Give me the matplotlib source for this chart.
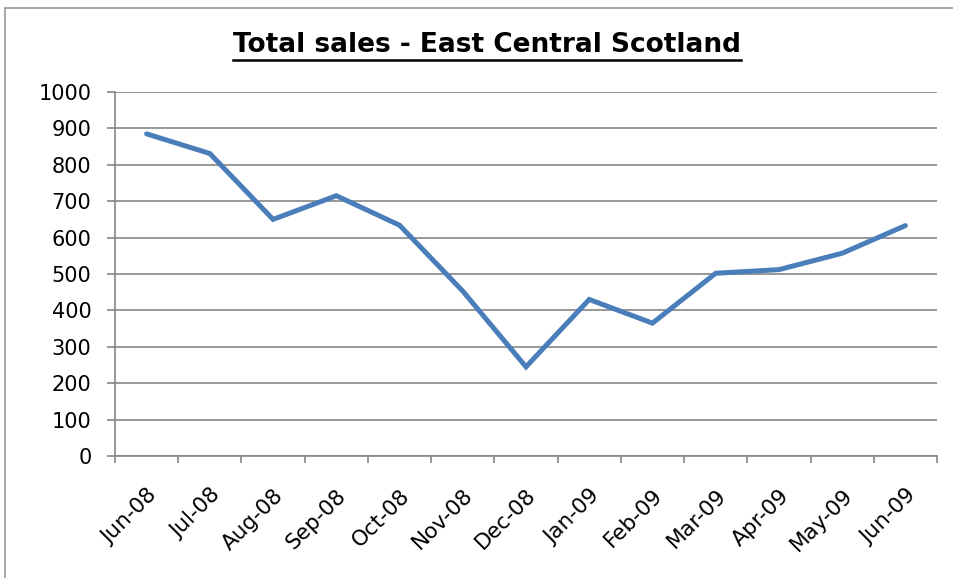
import matplotlib
matplotlib.use("Agg")
import matplotlib.pyplot as plt
from matplotlib.patches import Rectangle
from matplotlib.lines import Line2D
from matplotlib.transforms import ScaledTranslation

# Data
months = ["Jun-08", "Jul-08", "Aug-08", "Sep-08", "Oct-08", "Nov-08", "Dec-08",
          "Jan-09", "Feb-09", "Mar-09", "Apr-09", "May-09", "Jun-09"]
sales = [885, 831, 650, 715, 634, 453, 245, 430, 365, 502, 512, 557, 633]
y_ticks = list(range(0, 1001, 100))


def main():
    fig = plt.figure(figsize=(9.54, 5.78), dpi=100)

    # chart area border
    fig.patches.append(Rectangle((5 / 954, -0.05), 1.2, 1 - 8 / 578 + 0.05,
                                 transform=fig.transFigure, fill=False,
                                 edgecolor="#9a9a9a", lw=1.2))

    ax = fig.add_axes([115 / 954, 1 - 456 / 578, (937 - 115) / 954, (456 - 92) / 578])

    x = list(range(len(months)))
    ax.plot(x, sales, color="#4A7EBB", lw=3.6, solid_capstyle="round",
            solid_joinstyle="miter", zorder=3)

    ax.set_xlim(-0.5, len(months) - 0.5)
    ax.set_ylim(0, 1000)
    ax.set_yticks(y_ticks)
    ax.set_yticklabels([str(v) for v in y_ticks], fontsize=15)

    # ticks at category boundaries, labels in the middle
    ax.set_xticks([i - 0.5 for i in range(len(months) + 1)])
    ax.set_xticklabels([])
    ax.set_xticks(x, minor=True)
    ax.set_xticklabels(months, minor=True, rotation=45, ha="right",
                       rotation_mode="anchor", fontsize=15.5)
    shift = ScaledTranslation(5 / 72, 0, fig.dpi_scale_trans)
    for lbl in ax.get_xticklabels(minor=True):
        lbl.set_transform(lbl.get_transform() + shift)
    ax.tick_params(axis="x", which="minor", length=0, pad=21)
    ax.tick_params(axis="x", which="major", length=5, color="#868686", width=1.2)
    ax.tick_params(axis="y", length=6, color="#868686", width=1.2, pad=11)

    ax.yaxis.grid(True, color="#868686", lw=1.2)
    ax.set_axisbelow(True)
    for side in ["top", "right"]:
        ax.spines[side].set_visible(False)
    for side in ["left", "bottom"]:
        ax.spines[side].set_color("#868686")
        ax.spines[side].set_linewidth(1.2)

    # title with underline
    title = fig.text(487 / 954, 1 - 45 / 578, "Total sales - East Central Scotland",
                     ha="center", va="center", fontsize=19, fontweight="bold")
    fig.canvas.draw()
    bb = title.get_window_extent().transformed(fig.transFigure.inverted())
    fig.lines.append(Line2D([bb.x0, bb.x1], [bb.y0 - 0.003, bb.y0 - 0.003],
                            transform=fig.transFigure, color="black", lw=1.8))

    fig.savefig("out.png", dpi=100)


if __name__ == "__main__":
    main()
